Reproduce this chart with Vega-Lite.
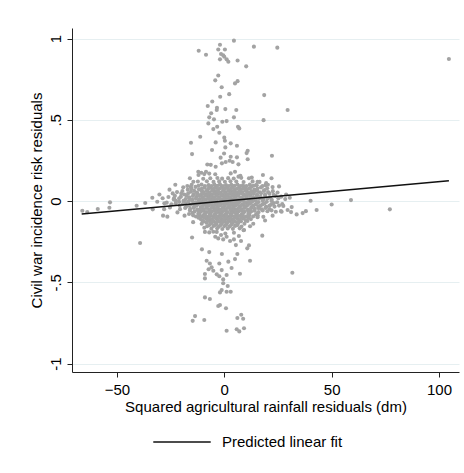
{
"$schema":"https://vega.github.io/schema/vega-lite/v6.json",
"autosize":{"type":"none"},
"padding":{"left":72,"top":28,"right":5,"bottom":101},
"width":387,"height":344,
"background":"white",
"config":{"view":{"stroke":null},"font":"Liberation Sans"},
"layer":[
{"data":{"values":[
{"x":4.5,"y":0.987},{"x":-2.0,"y":0.962},{"x":13.8,"y":0.950},{"x":24.7,"y":0.944},{"x":-11.9,"y":0.925},{"x":-2.8,"y":0.933},{"x":0.3,"y":0.933},{"x":-8.5,"y":0.900},{"x":-1.5,"y":0.905},{"x":-0.5,"y":0.897},{"x":0,"y":0.888},{"x":-2.0,"y":0.872},{"x":1.1,"y":0.872},{"x":1.9,"y":0.857},{"x":6.2,"y":0.865},{"x":10.2,"y":0.829},{"x":-2.8,"y":0.773},{"x":-4.2,"y":0.743},{"x":6.2,"y":0.738},{"x":5.0,"y":0.724},{"x":-1.2,"y":0.700},{"x":18.6,"y":0.652},{"x":2.3,"y":0.658},{"x":-1.9,"y":0.642},{"x":-5.6,"y":0.613},{"x":-7.7,"y":0.585},{"x":-3.4,"y":0.574},{"x":-3.5,"y":0.560},{"x":0.5,"y":0.566},{"x":5.6,"y":0.560},{"x":29.5,"y":0.560},{"x":-6.1,"y":0.540},{"x":18.3,"y":0.498},{"x":-7.0,"y":0.515},{"x":-4.8,"y":0.503},{"x":-0.9,"y":0.488},{"x":1.1,"y":0.492},{"x":4.5,"y":0.515},{"x":-7.4,"y":0.478},{"x":6.4,"y":0.457},{"x":7.0,"y":0.447},{"x":-5.1,"y":0.443},{"x":-3.3,"y":0.457},{"x":-2.3,"y":0.420},{"x":-11.2,"y":0.396},{"x":-15.5,"y":0.359},{"x":0,"y":0.390},{"x":0.3,"y":0.371},{"x":-4.0,"y":0.361},{"x":3.0,"y":0.355},{"x":0.5,"y":0.330},{"x":5.9,"y":0.340},{"x":-5.7,"y":0.314},{"x":10.9,"y":0.309},{"x":10.4,"y":0.295},{"x":-0.1,"y":0.293},{"x":-15.0,"y":0.289},{"x":22.2,"y":0.279},{"x":3.0,"y":0.273},{"x":-1.7,"y":0.267},{"x":5.9,"y":0.269},{"x":10.9,"y":0.257},{"x":-6.3,"y":0.223},{"x":-7.9,"y":0.225},{"x":-4.0,"y":0.211},{"x":-1.1,"y":0.232},{"x":0.65,"y":0.240},{"x":2.5,"y":0.248},{"x":3.9,"y":0.240},{"x":6.6,"y":0.226},{"x":-10.7,"y":0.174},{"x":-9.3,"y":0.166},{"x":-7.0,"y":0.169},{"x":-12.1,"y":0.180},{"x":5.0,"y":0.180},{"x":6.6,"y":0.150},{"x":-14.4,"y":0.119},{"x":-15.6,"y":0.088},{"x":15.5,"y":0.119},{"x":19.2,"y":0.098},{"x":15.1,"y":0.098},
{"x":-15.0,"y":-0.224},{"x":-9.3,"y":-0.164},{"x":-7.0,"y":-0.193},{"x":-5.1,"y":-0.189},{"x":-4.2,"y":-0.220},{"x":-2.8,"y":-0.230},{"x":-1.5,"y":-0.209},{"x":-0.5,"y":-0.236},{"x":1.1,"y":-0.220},{"x":2.7,"y":-0.246},{"x":4.5,"y":-0.236},{"x":6.8,"y":-0.215},{"x":9.2,"y":-0.178},{"x":7.8,"y":-0.246},{"x":5.4,"y":-0.271},{"x":11.5,"y":-0.273},{"x":10.7,"y":-0.291},{"x":17.7,"y":-0.213},{"x":-10.4,"y":-0.297},{"x":-7.0,"y":-0.314},{"x":-1.1,"y":-0.326},{"x":6.1,"y":-0.326},{"x":-8.2,"y":-0.367},{"x":-6.7,"y":-0.384},{"x":-2.3,"y":-0.384},{"x":1.9,"y":-0.373},{"x":5.0,"y":-0.357},{"x":12.0,"y":-0.367},{"x":-5.9,"y":-0.408},{"x":-7.3,"y":-0.420},{"x":-5.1,"y":-0.429},{"x":-1.2,"y":-0.425},{"x":3.4,"y":-0.412},{"x":7.3,"y":-0.447},{"x":-9.0,"y":-0.449},{"x":-9.0,"y":-0.476},{"x":-3.5,"y":-0.451},{"x":-2.3,"y":-0.463},{"x":1.1,"y":-0.455},{"x":31.7,"y":-0.441},{"x":-0.5,"y":-0.482},{"x":-0.5,"y":-0.506},{"x":1.6,"y":-0.523},{"x":-1.2,"y":-0.548},{"x":-2.0,"y":-0.562},{"x":1.1,"y":-0.558},{"x":3.0,"y":-0.558},{"x":-9.0,"y":-0.593},{"x":-6.7,"y":-0.603},{"x":-2.0,"y":-0.640},{"x":-2.8,"y":-0.646},{"x":0.8,"y":-0.660},{"x":7.9,"y":-0.700},{"x":6.1,"y":-0.720},{"x":8.8,"y":-0.724},{"x":-13.6,"y":-0.708},{"x":-14.7,"y":-0.737},{"x":-9.3,"y":-0.732},{"x":1.1,"y":-0.798},{"x":5.8,"y":-0.789},{"x":7.0,"y":-0.802},{"x":9.2,"y":-0.783},
{"x":26.4,"y":-0.062},{"x":29.5,"y":-0.055},{"x":31.1,"y":-0.068},{"x":33.7,"y":-0.082},{"x":16.2,"y":-0.043},{"x":26.7,"y":-0.066},{"x":31.4,"y":-0.037},{"x":36.5,"y":-0.074},{"x":38.0,"y":-0.062},{"x":40.2,"y":0.002},{"x":43.0,"y":-0.055},{"x":50.0,"y":-0.021},{"x":59.0,"y":0.006},{"x":77.1,"y":-0.051},{"x":104.6,"y":0.874},
{"x":-66.1,"y":-0.060},{"x":-63.8,"y":-0.068},{"x":-58.9,"y":-0.049},{"x":-53.5,"y":-0.041},{"x":-53.2,"y":-0.008},{"x":-40.8,"y":-0.029},{"x":-36.8,"y":-0.012},{"x":-33.3,"y":-0.051},{"x":-31.2,"y":-0.004},{"x":-28.7,"y":0.017},{"x":-27.9,"y":-0.014},{"x":-26.8,"y":-0.010},{"x":-28.5,"y":-0.090},{"x":-26.5,"y":-0.096},{"x":-25.3,"y":-0.039},{"x":-24.0,"y":0.047},{"x":-23.4,"y":0.017},{"x":-22.5,"y":0.002},{"x":-39.2,"y":-0.258},
{"x":-6.5,"y":0.14},{"x":-3.2,"y":0.142},{"x":-1.0,"y":0.138},{"x":1.8,"y":0.141},{"x":4.4,"y":0.139},{"x":7.9,"y":0.143},{"x":-9.8,"y":0.137},{"x":11.5,"y":0.14},
{"x":-12.3,"y":0.12},{"x":-8.1,"y":0.122},{"x":-5.0,"y":0.118},{"x":-2.4,"y":0.121},{"x":0.3,"y":0.119},{"x":2.9,"y":0.122},{"x":5.6,"y":0.12},{"x":9.0,"y":0.117},{"x":13.2,"y":0.121},{"x":16.4,"y":0.118},
{"x":-15.2,"y":0.1},{"x":-10.6,"y":0.102},{"x":-7.3,"y":0.098},{"x":-4.6,"y":0.101},{"x":-2.0,"y":0.103},{"x":0.8,"y":0.099},{"x":3.3,"y":0.1},{"x":6.1,"y":0.102},{"x":8.7,"y":0.097},{"x":11.9,"y":0.101},{"x":14.8,"y":0.099},{"x":20.3,"y":0.1},
{"x":-19.1,"y":0.085},{"x":-13.4,"y":0.087},{"x":-9.2,"y":0.083},{"x":-6.4,"y":0.086},{"x":-3.9,"y":0.084},{"x":-1.3,"y":0.087},{"x":1.4,"y":0.083},{"x":4.0,"y":0.086},{"x":6.9,"y":0.085},{"x":9.8,"y":0.082},{"x":12.6,"y":0.087},{"x":17.1,"y":0.084},{"x":22.5,"y":0.086},
{"x":-17.0,"y":0.07},{"x":-11.8,"y":0.072},{"x":-8.0,"y":0.068},{"x":-5.5,"y":0.071},{"x":-2.9,"y":0.069},{"x":-0.4,"y":0.072},{"x":2.2,"y":0.068},{"x":4.9,"y":0.07},{"x":7.6,"y":0.073},{"x":10.5,"y":0.069},{"x":14.1,"y":0.071},{"x":18.8,"y":0.068},
{"x":-22.0,"y":0.055},{"x":-15.5,"y":0.057},{"x":-12.7,"y":0.053},{"x":-9.6,"y":0.056},{"x":-6.9,"y":0.054},{"x":-4.3,"y":0.057},{"x":-1.8,"y":0.053},{"x":0.6,"y":0.055},{"x":3.1,"y":0.058},{"x":5.7,"y":0.054},{"x":8.4,"y":0.056},{"x":11.2,"y":0.053},{"x":13.9,"y":0.057},{"x":16.6,"y":0.054},{"x":20.4,"y":0.056},{"x":24.8,"y":0.053},
{"x":-18.6,"y":0.04},{"x":-14.2,"y":0.042},{"x":-10.9,"y":0.038},{"x":-8.3,"y":0.041},{"x":-5.8,"y":0.039},{"x":-3.3,"y":0.042},{"x":-0.9,"y":0.038},{"x":1.6,"y":0.041},{"x":4.1,"y":0.04},{"x":6.6,"y":0.043},{"x":9.3,"y":0.039},{"x":12.1,"y":0.041},{"x":15.3,"y":0.038},{"x":19.0,"y":0.042},{"x":23.0,"y":0.039},
{"x":-26.0,"y":0.025},{"x":-20.2,"y":0.027},{"x":-16.3,"y":0.023},{"x":-12.9,"y":0.026},{"x":-10.0,"y":0.024},{"x":-7.4,"y":0.027},{"x":-4.8,"y":0.023},{"x":-2.4,"y":0.025},{"x":0.1,"y":0.028},{"x":2.6,"y":0.024},{"x":5.1,"y":0.026},{"x":7.8,"y":0.023},{"x":10.5,"y":0.027},{"x":13.4,"y":0.024},{"x":16.9,"y":0.026},{"x":21.2,"y":0.023},{"x":26.5,"y":0.027},
{"x":-23.5,"y":0.01},{"x":-18.0,"y":0.012},{"x":-14.8,"y":0.008},{"x":-11.6,"y":0.011},{"x":-8.8,"y":0.009},{"x":-6.2,"y":0.012},{"x":-3.7,"y":0.008},{"x":-1.2,"y":0.01},{"x":1.2,"y":0.013},{"x":3.6,"y":0.009},{"x":6.2,"y":0.011},{"x":8.9,"y":0.008},{"x":11.8,"y":0.012},{"x":14.7,"y":0.009},{"x":18.2,"y":0.011},{"x":22.1,"y":0.008},{"x":28.4,"y":0.012},
{"x":-21.0,"y":-0.005},{"x":-16.7,"y":-0.003},{"x":-13.3,"y":-0.007},{"x":-10.3,"y":-0.004},{"x":-7.6,"y":-0.006},{"x":-5.1,"y":-0.003},{"x":-2.6,"y":-0.007},{"x":-0.1,"y":-0.005},{"x":2.4,"y":-0.002},{"x":4.8,"y":-0.006},{"x":7.3,"y":-0.004},{"x":10.1,"y":-0.007},{"x":13.0,"y":-0.003},{"x":16.0,"y":-0.006},{"x":19.8,"y":-0.004},{"x":24.6,"y":-0.007},
{"x":-24.6,"y":-0.02},{"x":-19.3,"y":-0.018},{"x":-15.6,"y":-0.022},{"x":-12.2,"y":-0.019},{"x":-9.3,"y":-0.021},{"x":-6.7,"y":-0.018},{"x":-4.2,"y":-0.022},{"x":-1.7,"y":-0.02},{"x":0.7,"y":-0.017},{"x":3.2,"y":-0.021},{"x":5.8,"y":-0.019},{"x":8.5,"y":-0.022},{"x":11.4,"y":-0.018},{"x":14.5,"y":-0.021},{"x":17.9,"y":-0.019},{"x":21.8,"y":-0.022},{"x":27.0,"y":-0.018},
{"x":-17.8,"y":-0.035},{"x":-14.0,"y":-0.033},{"x":-10.9,"y":-0.037},{"x":-8.1,"y":-0.034},{"x":-5.6,"y":-0.036},{"x":-3.0,"y":-0.033},{"x":-0.6,"y":-0.037},{"x":1.9,"y":-0.035},{"x":4.4,"y":-0.032},{"x":7.0,"y":-0.036},{"x":9.7,"y":-0.034},{"x":12.6,"y":-0.037},{"x":15.9,"y":-0.033},{"x":19.5,"y":-0.036},{"x":23.4,"y":-0.034},
{"x":-20.6,"y":-0.05},{"x":-15.9,"y":-0.048},{"x":-12.5,"y":-0.052},{"x":-9.6,"y":-0.049},{"x":-7.0,"y":-0.051},{"x":-4.5,"y":-0.048},{"x":-2.0,"y":-0.052},{"x":0.5,"y":-0.05},{"x":3.0,"y":-0.047},{"x":5.5,"y":-0.051},{"x":8.2,"y":-0.049},{"x":11.0,"y":-0.052},{"x":14.2,"y":-0.048},{"x":17.5,"y":-0.051},{"x":21.0,"y":-0.049},
{"x":-13.8,"y":-0.065},{"x":-10.8,"y":-0.063},{"x":-8.2,"y":-0.067},{"x":-5.7,"y":-0.064},{"x":-3.2,"y":-0.066},{"x":-0.8,"y":-0.063},{"x":1.7,"y":-0.067},{"x":4.2,"y":-0.065},{"x":6.8,"y":-0.062},{"x":9.5,"y":-0.066},{"x":12.5,"y":-0.064},{"x":16.0,"y":-0.067},{"x":20.1,"y":-0.063},{"x":24.0,"y":-0.066},
{"x":-16.4,"y":-0.08},{"x":-12.1,"y":-0.078},{"x":-9.4,"y":-0.082},{"x":-6.9,"y":-0.079},{"x":-4.4,"y":-0.081},{"x":-2.0,"y":-0.078},{"x":0.4,"y":-0.082},{"x":2.9,"y":-0.08},{"x":5.4,"y":-0.077},{"x":8.1,"y":-0.081},{"x":11.2,"y":-0.079},{"x":14.8,"y":-0.082},
{"x":-13.2,"y":-0.095},{"x":-10.2,"y":-0.093},{"x":-7.6,"y":-0.097},{"x":-5.2,"y":-0.094},{"x":-2.8,"y":-0.096},{"x":-0.3,"y":-0.093},{"x":2.1,"y":-0.097},{"x":4.6,"y":-0.095},{"x":7.2,"y":-0.092},{"x":10.1,"y":-0.096},{"x":13.5,"y":-0.094},{"x":18.2,"y":-0.097},
{"x":-11.0,"y":-0.11},{"x":-8.4,"y":-0.108},{"x":-6.0,"y":-0.112},{"x":-3.6,"y":-0.109},{"x":-1.2,"y":-0.111},{"x":1.2,"y":-0.108},{"x":3.7,"y":-0.112},{"x":6.3,"y":-0.11},{"x":9.0,"y":-0.107},{"x":12.4,"y":-0.111},
{"x":-9.6,"y":-0.125},{"x":-7.1,"y":-0.123},{"x":-4.7,"y":-0.127},{"x":-2.3,"y":-0.124},{"x":0.2,"y":-0.126},{"x":2.6,"y":-0.123},{"x":5.1,"y":-0.127},{"x":7.8,"y":-0.125},{"x":10.8,"y":-0.122},
{"x":-10.5,"y":-0.14},{"x":-6.3,"y":-0.138},{"x":-3.8,"y":-0.142},{"x":-1.4,"y":-0.139},{"x":1.0,"y":-0.141},{"x":3.5,"y":-0.138},{"x":6.1,"y":-0.142},{"x":9.4,"y":-0.14},
{"x":-8.0,"y":-0.155},{"x":-5.0,"y":-0.153},{"x":-2.5,"y":-0.157},{"x":0.0,"y":-0.154},{"x":2.4,"y":-0.156},{"x":5.0,"y":-0.153},{"x":8.0,"y":-0.157},{"x":12.0,"y":-0.155},
{"x":-6.0,"y":-0.17},{"x":-3.3,"y":-0.168},{"x":-0.9,"y":-0.172},{"x":1.6,"y":-0.169},{"x":4.0,"y":-0.171},{"x":7.2,"y":-0.168},
{"x":-22.8,"y":0.10},{"x":-25.5,"y":0.07},{"x":-30.2,"y":0.04},{"x":-28.0,"y":-0.05},{"x":-33.5,"y":0.02},{"x":19.5,"y":0.11},{"x":25.5,"y":0.09},{"x":28.8,"y":0.04},{"x":30.5,"y":0.02},{"x":27.5,"y":-0.03},{"x":-18.5,"y":-0.09},{"x":-21.8,"y":-0.07},{"x":15.5,"y":-0.10},{"x":19.0,"y":-0.12},{"x":22.5,"y":-0.09},{"x":-14.5,"y":-0.13},{"x":13.5,"y":-0.14},{"x":-12.0,"y":0.16},{"x":-8.5,"y":0.18},{"x":-4.2,"y":0.165},{"x":3.0,"y":0.17},{"x":7.5,"y":0.155},{"x":12.8,"y":0.145},{"x":-16.0,"y":0.14},{"x":18.0,"y":0.16},{"x":22.0,"y":0.14},{"x":-3.5,"y":-0.19},{"x":4.5,"y":-0.195},{"x":9.0,"y":-0.18},{"x":-9.0,"y":-0.19},{"x":0.5,"y":-0.2},
{"x":-17.2,"y":0.093},{"x":-12.0,"y":0.094},{"x":-9.0,"y":0.092},{"x":-6.0,"y":0.093},{"x":-3.3,"y":0.094},{"x":-0.6,"y":0.092},{"x":2.1,"y":0.093},{"x":4.7,"y":0.094},{"x":7.4,"y":0.092},{"x":10.3,"y":0.093},{"x":13.5,"y":0.094},{"x":17.8,"y":0.092},
{"x":-15.3,"y":0.078},{"x":-10.4,"y":0.077},{"x":-7.2,"y":0.079},{"x":-4.7,"y":0.078},{"x":-2.1,"y":0.077},{"x":0.5,"y":0.079},{"x":3.2,"y":0.078},{"x":5.9,"y":0.077},{"x":8.8,"y":0.079},{"x":11.6,"y":0.078},{"x":15.5,"y":0.077},{"x":20.0,"y":0.079},
{"x":-19.5,"y":0.062},{"x":-14.0,"y":0.063},{"x":-10.5,"y":0.061},{"x":-8.1,"y":0.062},{"x":-5.6,"y":0.063},{"x":-3.0,"y":0.061},{"x":-0.6,"y":0.062},{"x":1.9,"y":0.063},{"x":4.4,"y":0.061},{"x":7.0,"y":0.062},{"x":9.8,"y":0.063},{"x":12.6,"y":0.061},{"x":15.3,"y":0.062},{"x":18.4,"y":0.063},{"x":22.6,"y":0.061},
{"x":-20.0,"y":0.047},{"x":-16.8,"y":0.048},{"x":-12.5,"y":0.046},{"x":-9.6,"y":0.047},{"x":-7.0,"y":0.048},{"x":-4.6,"y":0.046},{"x":-2.1,"y":0.047},{"x":0.4,"y":0.048},{"x":2.9,"y":0.046},{"x":5.4,"y":0.047},{"x":8.0,"y":0.048},{"x":10.7,"y":0.046},{"x":13.7,"y":0.047},{"x":17.1,"y":0.048},{"x":21.0,"y":0.046},
{"x":-23.0,"y":0.032},{"x":-17.5,"y":0.033},{"x":-14.6,"y":0.031},{"x":-11.4,"y":0.032},{"x":-8.7,"y":0.033},{"x":-6.1,"y":0.031},{"x":-3.6,"y":0.032},{"x":-1.1,"y":0.033},{"x":1.4,"y":0.031},{"x":3.9,"y":0.032},{"x":6.4,"y":0.033},{"x":9.1,"y":0.031},{"x":12.0,"y":0.032},{"x":15.1,"y":0.033},{"x":19.0,"y":0.031},{"x":23.8,"y":0.032},
{"x":-21.0,"y":0.017},{"x":-16.3,"y":0.018},{"x":-13.2,"y":0.016},{"x":-10.2,"y":0.017},{"x":-7.5,"y":0.018},{"x":-5.0,"y":0.016},{"x":-2.5,"y":0.017},{"x":0.0,"y":0.018},{"x":2.5,"y":0.016},{"x":4.9,"y":0.017},{"x":7.5,"y":0.018},{"x":10.3,"y":0.016},{"x":13.2,"y":0.017},{"x":16.4,"y":0.018},{"x":20.1,"y":0.016},{"x":25.2,"y":0.017},
{"x":-19.0,"y":0.002},{"x":-15.0,"y":0.003},{"x":-11.9,"y":0.001},{"x":-9.0,"y":0.002},{"x":-6.4,"y":0.003},{"x":-3.9,"y":0.001},{"x":-1.4,"y":0.002},{"x":1.1,"y":0.003},{"x":3.6,"y":0.001},{"x":6.0,"y":0.002},{"x":8.7,"y":0.003},{"x":11.5,"y":0.001},{"x":14.5,"y":0.002},{"x":17.9,"y":0.003},{"x":22.0,"y":0.001},
{"x":-22.6,"y":-0.013},{"x":-18.0,"y":-0.012},{"x":-14.4,"y":-0.014},{"x":-11.2,"y":-0.013},{"x":-8.4,"y":-0.012},{"x":-5.9,"y":-0.014},{"x":-3.4,"y":-0.013},{"x":-0.9,"y":-0.012},{"x":1.6,"y":-0.014},{"x":4.1,"y":-0.013},{"x":6.6,"y":-0.012},{"x":9.3,"y":-0.014},{"x":12.2,"y":-0.013},{"x":15.3,"y":-0.012},{"x":18.8,"y":-0.014},{"x":23.0,"y":-0.013},
{"x":-20.8,"y":-0.028},{"x":-16.5,"y":-0.027},{"x":-12.9,"y":-0.029},{"x":-9.9,"y":-0.028},{"x":-7.3,"y":-0.027},{"x":-4.8,"y":-0.029},{"x":-2.3,"y":-0.028},{"x":0.2,"y":-0.027},{"x":2.7,"y":-0.029},{"x":5.2,"y":-0.028},{"x":7.8,"y":-0.027},{"x":10.6,"y":-0.029},{"x":13.6,"y":-0.028},{"x":17.0,"y":-0.027},{"x":21.0,"y":-0.029},{"x":25.5,"y":-0.028},
{"x":-18.2,"y":-0.043},{"x":-14.2,"y":-0.042},{"x":-11.0,"y":-0.044},{"x":-8.3,"y":-0.043},{"x":-5.8,"y":-0.042},{"x":-3.3,"y":-0.044},{"x":-0.8,"y":-0.043},{"x":1.7,"y":-0.042},{"x":4.2,"y":-0.044},{"x":6.8,"y":-0.043},{"x":9.5,"y":-0.042},{"x":12.5,"y":-0.044},{"x":15.8,"y":-0.043},{"x":19.2,"y":-0.042},
{"x":-16.0,"y":-0.058},{"x":-12.2,"y":-0.057},{"x":-9.5,"y":-0.059},{"x":-6.9,"y":-0.058},{"x":-4.4,"y":-0.057},{"x":-1.9,"y":-0.059},{"x":0.6,"y":-0.058},{"x":3.1,"y":-0.057},{"x":5.6,"y":-0.059},{"x":8.2,"y":-0.058},{"x":11.0,"y":-0.057},{"x":14.1,"y":-0.059},{"x":17.9,"y":-0.058},{"x":22.0,"y":-0.057},
{"x":-14.8,"y":-0.073},{"x":-11.4,"y":-0.072},{"x":-8.8,"y":-0.074},{"x":-6.3,"y":-0.073},{"x":-3.8,"y":-0.072},{"x":-1.3,"y":-0.074},{"x":1.1,"y":-0.073},{"x":3.6,"y":-0.072},{"x":6.1,"y":-0.074},{"x":8.8,"y":-0.073},{"x":11.8,"y":-0.072},{"x":15.5,"y":-0.074},
{"x":-14.5,"y":-0.088},{"x":-11.6,"y":-0.087},{"x":-8.9,"y":-0.089},{"x":-6.4,"y":-0.088},{"x":-4.0,"y":-0.087},{"x":-1.5,"y":-0.089},{"x":1.0,"y":-0.088},{"x":3.4,"y":-0.087},{"x":5.9,"y":-0.089},{"x":8.6,"y":-0.088},{"x":11.7,"y":-0.087},{"x":15.6,"y":-0.089},
{"x":-12.0,"y":-0.103},{"x":-9.3,"y":-0.102},{"x":-6.8,"y":-0.104},{"x":-4.4,"y":-0.103},{"x":-2.0,"y":-0.102},{"x":0.5,"y":-0.104},{"x":2.9,"y":-0.103},{"x":5.4,"y":-0.102},{"x":8.1,"y":-0.104},{"x":11.2,"y":-0.103},
{"x":-10.3,"y":-0.118},{"x":-7.8,"y":-0.117},{"x":-5.4,"y":-0.119},{"x":-3.0,"y":-0.118},{"x":-0.5,"y":-0.117},{"x":1.9,"y":-0.119},{"x":4.4,"y":-0.118},{"x":7.0,"y":-0.117},{"x":10.0,"y":-0.119},
{"x":-8.3,"y":-0.133},{"x":-5.9,"y":-0.132},{"x":-3.5,"y":-0.134},{"x":-1.0,"y":-0.133},{"x":1.4,"y":-0.132},{"x":3.9,"y":-0.134},{"x":6.5,"y":-0.133},
{"x":-7.0,"y":-0.148},{"x":-4.2,"y":-0.147},{"x":-1.8,"y":-0.149},{"x":0.7,"y":-0.148},{"x":3.2,"y":-0.147},{"x":6.0,"y":-0.149}
]},
"mark":{"type":"point","filled":true,"color":"#a3a3a3","size":17,"opacity":1},
"encoding":{
"x":{"field":"x","type":"quantitative","scale":{"domain":[-70.9,109.3],"nice":false,"zero":false},
"axis":{"values":[-50,0,50,100],"title":"Squared agricultural rainfall residuals (dm)","grid":false,"domainColor":"#222","tickColor":"#222","tickSize":5,"labelFontSize":15,"titleFontSize":15,"labelColor":"#000","titleColor":"#000","titleFontWeight":"normal","labelPadding":5,"titlePadding":2,"labelFlush":false}},
"y":{"field":"y","type":"quantitative","scale":{"domain":[-1.052,1.065],"nice":false,"zero":false},
"axis":{"values":[-1,-0.5,0,0.5,1],"labelExpr":"replace(toString(datum.value),'0.','.')","title":"Civil war incidence risk residuals","grid":true,"gridColor":"#e6eff1","gridWidth":1,"domainColor":"#222","tickColor":"#222","tickSize":5,"labelFontSize":15,"titleFontSize":15,"labelColor":"#000","titleColor":"#000","titleFontWeight":"normal","labelAngle":-90,"labelAlign":"center","labelBaseline":"bottom","labelPadding":4,"titlePadding":4,"labelFlush":false}}
}},
{"data":{"values":[{"x":-66.4,"y":-0.0795,"s":"Predicted linear fit"},{"x":104.6,"y":0.1249,"s":"Predicted linear fit"}]},
"mark":{"type":"line","strokeWidth":1.6},
"encoding":{
"x":{"field":"x","type":"quantitative"},
"y":{"field":"y","type":"quantitative"},
"stroke":{"field":"s","type":"nominal","scale":{"range":["#111111"]},
"legend":{"title":null,"orient":"none","legendX":80,"legendY":384,"symbolType":"stroke","symbolSize":3300,"symbolStrokeWidth":1.6,"labelFontSize":15,"labelColor":"#000","labelOffset":10}}
}}
]
}
